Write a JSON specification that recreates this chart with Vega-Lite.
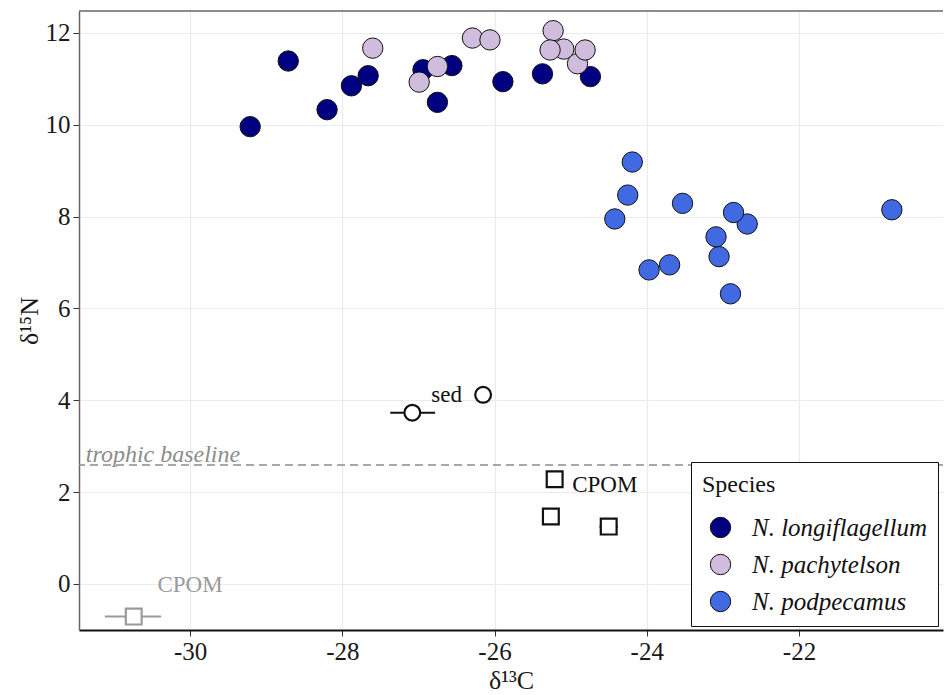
{
  "$schema": "https://vega.github.io/schema/vega-lite/v6.json",
  "width": 864,
  "height": 619,
  "autosize": {"type": "none"},
  "padding": {"left": 79, "top": 11, "right": 6, "bottom": 65},
  "background": "white",
  "config": {
    "font": "Liberation Serif",
    "view": {"stroke": null},
    "axis": {
      "labelFont": "Liberation Serif",
      "titleFont": "Liberation Serif",
      "labelFontSize": 25,
      "titleFontSize": 26,
      "titleFontWeight": "normal",
      "labelColor": "#1a1a1a",
      "titleColor": "#1a1a1a",
      "gridColor": "#ebebeb",
      "gridWidth": 1.2,
      "tickColor": "#333",
      "tickSize": 6,
      "labelPadding": 3,
      "labelExpr": "replace(datum.label, '−', '-')"
    }
  },
  "datasets": {
    "consumers": [
      {"species": "N. longiflagellum", "d13C": -29.21, "d15N": 9.96},
      {"species": "N. longiflagellum", "d13C": -28.71, "d15N": 11.39},
      {"species": "N. longiflagellum", "d13C": -28.20, "d15N": 10.33},
      {"species": "N. longiflagellum", "d13C": -27.88, "d15N": 10.85},
      {"species": "N. longiflagellum", "d13C": -27.66, "d15N": 11.07},
      {"species": "N. longiflagellum", "d13C": -26.94, "d15N": 11.20},
      {"species": "N. longiflagellum", "d13C": -26.56, "d15N": 11.29},
      {"species": "N. longiflagellum", "d13C": -26.75, "d15N": 10.49},
      {"species": "N. longiflagellum", "d13C": -25.89, "d15N": 10.94},
      {"species": "N. longiflagellum", "d13C": -25.37, "d15N": 11.11},
      {"species": "N. longiflagellum", "d13C": -24.74, "d15N": 11.05},
      {"species": "N. pachytelson", "d13C": -27.60, "d15N": 11.67},
      {"species": "N. pachytelson", "d13C": -26.75, "d15N": 11.27},
      {"species": "N. pachytelson", "d13C": -26.99, "d15N": 10.93},
      {"species": "N. pachytelson", "d13C": -26.29, "d15N": 11.89},
      {"species": "N. pachytelson", "d13C": -26.06, "d15N": 11.85},
      {"species": "N. pachytelson", "d13C": -25.23, "d15N": 12.05},
      {"species": "N. pachytelson", "d13C": -25.09, "d15N": 11.65},
      {"species": "N. pachytelson", "d13C": -24.91, "d15N": 11.33},
      {"species": "N. pachytelson", "d13C": -25.27, "d15N": 11.63},
      {"species": "N. pachytelson", "d13C": -24.81, "d15N": 11.63},
      {"species": "N. podpecamus", "d13C": -24.19, "d15N": 9.19},
      {"species": "N. podpecamus", "d13C": -24.25, "d15N": 8.47},
      {"species": "N. podpecamus", "d13C": -24.42, "d15N": 7.95},
      {"species": "N. podpecamus", "d13C": -23.53, "d15N": 8.29},
      {"species": "N. podpecamus", "d13C": -22.68, "d15N": 7.84},
      {"species": "N. podpecamus", "d13C": -22.86, "d15N": 8.09},
      {"species": "N. podpecamus", "d13C": -23.05, "d15N": 7.13},
      {"species": "N. podpecamus", "d13C": -23.09, "d15N": 7.56},
      {"species": "N. podpecamus", "d13C": -23.97, "d15N": 6.84},
      {"species": "N. podpecamus", "d13C": -23.70, "d15N": 6.95},
      {"species": "N. podpecamus", "d13C": -22.90, "d15N": 6.32},
      {"species": "N. podpecamus", "d13C": -20.78, "d15N": 8.15}
    ],
    "sources": [
      {"source": "sed", "origin": "this study", "d13C": -27.08, "d15N": 3.73, "lo": -27.37, "hi": -26.78},
      {"source": "sed", "origin": "this study", "d13C": -26.15, "d15N": 4.12, "lo": null, "hi": null},
      {"source": "CPOM", "origin": "this study", "d13C": -25.21, "d15N": 2.28, "lo": null, "hi": null},
      {"source": "CPOM", "origin": "this study", "d13C": -25.26, "d15N": 1.47, "lo": null, "hi": null},
      {"source": "CPOM", "origin": "this study", "d13C": -24.50, "d15N": 1.25, "lo": -24.62, "hi": -24.38},
      {"source": "CPOM", "origin": "literature", "d13C": -30.74, "d15N": -0.71, "lo": -31.12, "hi": -30.38}
    ],
    "labels": [
      {"label": "sed", "origin": "this study", "d13C": -26.63, "d15N": 4.12, "anchor": "center"},
      {"label": "CPOM", "origin": "this study", "d13C": -24.98, "d15N": 2.16, "anchor": "left"},
      {"label": "CPOM", "origin": "literature", "d13C": -30.0, "d15N": -0.02, "anchor": "center"}
    ],
    "baseline": [
      {"label": "trophic baseline", "d15N": 2.59, "labelX": -31.37, "labelY": 2.66}
    ]
  },
  "encoding": {
    "x": {
      "field": "d13C", "type": "quantitative",
      "scale": {"domain": [-31.459, -20.108], "nice": false, "zero": false},
      "axis": {"title": "δ¹³C", "values": [-30, -28, -26, -24, -22], "domainColor": "#111", "domainWidth": 2, "titlePadding": 3}
    },
    "y": {
      "field": "d15N", "type": "quantitative",
      "scale": {"domain": [-1.002, 12.479], "nice": false, "zero": false},
      "axis": {"title": "δ¹⁵N", "values": [0, 2, 4, 6, 8, 10, 12], "domainColor": "#666", "domainWidth": 1.5, "titlePadding": 3}
    }
  },
  "layer": [
    {
      "data": {"values": [{"top": 12.479}]},
      "mark": {"type": "rule", "color": "#666", "strokeWidth": 1.5},
      "encoding": {"x": null, "y": {"field": "top", "type": "quantitative"}}
    },
    {
      "data": {"name": "baseline"},
      "mark": {"type": "rule", "color": "#8c8c8c", "strokeWidth": 1.6, "strokeDash": [8, 5]},
      "encoding": {"x": null}
    },
    {
      "data": {"name": "baseline"},
      "mark": {"type": "text", "font": "Liberation Serif", "fontSize": 24, "fontStyle": "italic", "color": "#8c8c8c", "align": "left", "baseline": "alphabetic"},
      "encoding": {
        "x": {"field": "labelX", "type": "quantitative"},
        "y": {"field": "labelY", "type": "quantitative"},
        "text": {"field": "label"}
      }
    },
    {
      "data": {"name": "sources"},
      "transform": [{"filter": "datum.lo != null"}],
      "mark": {"type": "rule", "strokeWidth": 2},
      "encoding": {
        "x": {"field": "lo", "type": "quantitative"},
        "x2": {"field": "hi"},
        "stroke": {"field": "origin", "type": "nominal", "scale": {"domain": ["this study", "literature"], "range": ["#111111", "#9a9a9a"]}, "legend": null}
      }
    },
    {
      "data": {"name": "sources"},
      "mark": {"type": "point", "filled": true, "fill": "white", "strokeWidth": 2.2, "size": 250, "opacity": 1},
      "encoding": {
        "shape": {"field": "source", "type": "nominal", "scale": {"domain": ["sed", "CPOM"], "range": ["circle", "square"]}, "legend": null},
        "stroke": {"field": "origin", "type": "nominal", "legend": null}
      }
    },
    {
      "data": {"name": "labels"},
      "transform": [{"filter": "datum.anchor == 'center'"}],
      "mark": {"type": "text", "font": "Liberation Serif", "fontSize": 23, "align": "center", "baseline": "middle"},
      "encoding": {
        "text": {"field": "label"},
        "fill": {"field": "origin", "type": "nominal", "scale": {"domain": ["this study", "literature"], "range": ["#111111", "#9a9a9a"]}, "legend": null}
      }
    },
    {
      "data": {"name": "labels"},
      "transform": [{"filter": "datum.anchor == 'left'"}],
      "mark": {"type": "text", "font": "Liberation Serif", "fontSize": 23, "align": "left", "baseline": "middle", "color": "#111111"},
      "encoding": {"text": {"field": "label"}}
    },
    {
      "data": {"name": "consumers"},
      "mark": {"type": "point", "shape": "circle", "filled": true, "stroke": "#111111", "strokeWidth": 1, "size": 415, "opacity": 1},
      "encoding": {
        "color": {
          "field": "species", "type": "nominal",
          "scale": {"domain": ["N. longiflagellum", "N. pachytelson", "N. podpecamus"], "range": ["#000080", "#D0BCDC", "#4169E1"]},
          "legend": {
            "title": "Species",
            "orient": "none",
            "legendX": 612,
            "legendY": 451,
            "strokeColor": "#111111",
            "fillColor": "white",
            "padding": 11,
            "titleFont": "Liberation Serif",
            "titleFontSize": 24,
            "titleFontWeight": "normal",
            "titleColor": "#111111",
            "titlePadding": 18,
            "labelFont": "Liberation Serif",
            "labelFontSize": 25,
            "labelFontStyle": "italic",
            "labelColor": "#111111",
            "labelOffset": 19,
            "labelLimit": 0,
            "symbolSize": 415,
            "symbolType": "circle",
            "symbolStrokeColor": "#111111",
            "symbolStrokeWidth": 1,
            "symbolOffset": 6,
            "rowPadding": 11
          }
        }
      }
    }
  ]
}
